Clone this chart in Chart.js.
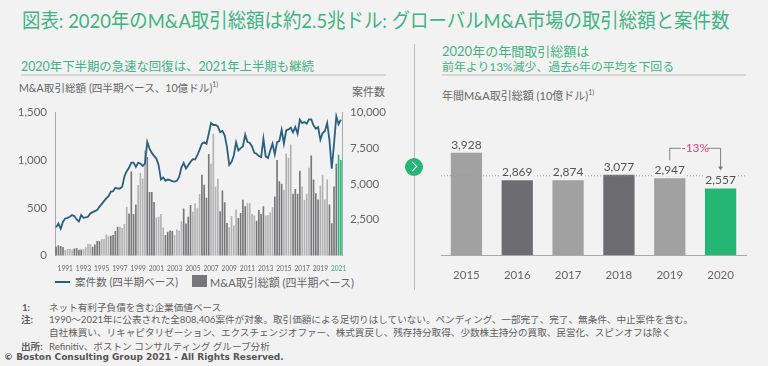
<!DOCTYPE html>
<html lang="ja">
<head>
<meta charset="utf-8">
<title>M&amp;A取引総額</title>
<script src="https://cdn.jsdelivr.net/npm/chart.js@4"></script>
<style>
html, body { margin: 0; padding: 0; background: #f2f2f2; }
body { position: relative; width: 768px; height: 366px; overflow: hidden; font-family: Lato, "Noto Sans CJK JP", sans-serif; color: #666; }
.t { position: absolute; white-space: nowrap; line-height: 1; }
.title { left: 22px; top: 10px; font-size: 20px; color: #3fb382; transform: scaleX(0.921); transform-origin: left center; }
.head { font-size: 12.4px; color: #3fb382; }
.axis { font-size: 10.6px; color: #666; }
.note { font-size: 9.6px; color: #5f5f5f; }
.rule { position: absolute; height: 2px; background: #d6d6d6; }
sup { font-size: 7px; line-height: 0; }
canvas { position: absolute; }
#divider { position: absolute; left: 414px; top: 44px; width: 1px; height: 246px; background: #bdbdbd; }
#go { position: absolute; left: 405px; top: 158px; width: 18px; height: 18px; border-radius: 50%; background: #25b574; }
#go:after { content: ""; position: absolute; left: 4px; top: 5px; width: 6px; height: 6px; border-top: 1.3px solid #fff; border-right: 1.3px solid #fff; transform: rotate(45deg); }
.swatch { position: absolute; }
</style>
</head>
<body>
<div class="t title">図表: 2020年のM&amp;A取引総額は約2.5兆ドル: グローバルM&amp;A市場の取引総額と案件数</div>

<div class="t head" style="left:21px;top:61px">2020年下半期の急速な回復は、2021年上半期も継続</div>
<div class="rule" style="left:21px;top:74px;width:365px"></div>
<div class="t axis" style="left:19px;top:83px">M&amp;A取引総額 (四半期ベース、10億ドル)<sup>1)</sup></div>
<div class="t axis" style="left:352px;top:86px;font-size:11px">案件数</div>

<div id="divider"></div>
<div id="go"></div>

<div class="t head" style="left:442px;top:45px;font-size:13px">2020年の年間取引総額は</div>
<div class="t head" style="left:442px;top:61px;font-size:11.9px">前年より13%減少、過去6年の平均を下回る</div>
<div class="rule" style="left:442px;top:74px;width:304px"></div>
<div class="t axis" style="left:442px;top:90px;font-size:11px">年間M&amp;A取引総額 (10億ドル)<sup>1)</sup></div>

<canvas id="trendChart" style="left:0;top:100px"></canvas>
<canvas id="annualChart" style="left:425px;top:120px"></canvas>

<div class="swatch" style="left:55px;top:281px;width:15px;height:2px;background:#2a5f80"></div>
<div class="t axis" style="left:75px;top:277px">案件数 (四半期ベース)</div>
<div class="swatch" style="left:192px;top:275px;width:15px;height:12px;background:#77777a"></div>
<div class="t axis" style="left:210px;top:277px;font-size:11px">M&amp;A取引総額 (四半期ベース)</div>

<div class="t note" style="left:22px;top:303px;font-weight:bold">1:</div>
<div class="t note" style="left:49px;top:303px">ネット有利子負債を含む企業価値ベース</div>
<div class="t note" style="left:21px;top:315px;font-weight:bold">注:</div>
<div class="t note" style="left:49px;top:315px">1990～2021年に公表された全808,406案件が対象。取引価額による足切りはしていない。ペンディング、一部完了、完了、無条件、中止案件を含む。</div>
<div class="t note" style="left:49px;top:328px">自社株買い、リキャピタリゼーション、エクスチェンジオファー、株式買戻し、残存持分取得、少数株主持分の買取、民営化、スピンオフは除く</div>
<div class="t note" style="left:21px;top:342px;font-weight:bold">出所:</div>
<div class="t note" style="left:49px;top:342px">Refinitiv、ボストン コンサルティング グループ分析</div>
<div class="t" style="left:4px;top:353px;font-size:9px;font-weight:bold;color:#555;font-family:'DejaVu Sans',sans-serif">© Boston Consulting Group 2021 - All Rights Reserved.</div>

<script>
// Quarterly values, 1990 Q1 to 2021 Q2
const firstYear = 1990;
const quarterCount = 126;
const tickYears = [1991, 1993, 1995, 1997, 1999, 2001, 2003, 2005, 2007, 2009, 2011, 2013, 2015, 2017, 2019, 2021];

const dealValue = [
    94, 108, 100, 90, 60, 70, 73, 66, 76, 80, 62, 66,
    70, 87, 121, 121, 94, 118, 153, 153, 174, 174, 222, 208,
    208, 215, 257, 302, 302, 288, 330, 510, 440, 880, 434, 534,
    739, 864, 805, 1100, 1030, 665, 665, 560, 399, 406, 434, 295,
    215, 250, 264, 257, 215, 274, 260, 360, 493, 337, 406, 530,
    460, 548, 495, 645, 845, 740, 604, 1061, 960, 1274, 722, 803,
    464, 680, 558, 342, 297, 415, 314, 482, 394, 447, 583, 516,
    548, 548, 436, 419, 366, 478, 436, 516, 419, 426, 454, 506,
    618, 998, 778, 750, 688, 1068, 1023, 1162, 646, 695, 646, 886,
    722, 583, 646, 918, 1047, 796, 653, 586, 729, 845, 586, 796,
    534, 339, 722, 960, 1054, 998
];

const dealCount = [
    1968, 2245, 1875, 2361, 2593, 2639, 2708, 2824, 2755, 2523, 2384, 2824,
    2639, 2662, 2708, 2940, 3033, 3102, 3172, 3403, 3588, 3797, 3982, 4144,
    4445, 4491, 4723, 4676, 4676, 4792, 5533, 5880, 6112, 6482, 6482, 6181,
    6459, 6413, 6250, 6413, 7917, 7454, 7153, 6945, 6760, 6297, 5301, 5440,
    5209, 5301, 5255, 5186, 5162, 5209, 5487, 6135, 6459, 6065, 6297, 6528,
    6713, 6690, 6991, 7385, 7792, 7885, 7792, 8490, 9234, 9095, 9095, 9000,
    8606, 8676, 8374, 7559, 6327, 6513, 6978, 7885, 7327, 7490, 7606, 8420,
    7908, 7862, 7606, 7164, 7094, 6932, 6862, 8141, 6909, 6792, 7327, 7792,
    7048, 7908, 7978, 8769, 7792, 8723, 8792, 8909, 8583, 8955, 8490, 9467,
    9234, 9304, 9188, 9490, 9490, 9071, 8839, 8955, 8071, 8537, 8676, 9234,
    8025, 6048, 7792, 9699, 9141, 9467
];

// Annual totals
const annualYears = ['2015', '2016', '2017', '2018', '2019', '2020'];
const annualValue = [3928, 2869, 2874, 3077, 2947, 2557];
const annualAverage = 3042;
const changeLabel = '-13%';

const FONT = 'Lato, "Noto Sans CJK JP", sans-serif';
const TEXT = '#666666';
const DARK_BAR = '#77777a';
const LIGHT_BAR = '#b2b2b2';
const GREEN = '#25b574';

document.addEventListener('DOMContentLoaded', function() {
    initTrendChart();
    initAnnualChart();
});

function quarterYear(index) {
    return firstYear + Math.floor(index / 4);
}

/**
 * Left chart: quarterly bars with deal count line on the right axis
 */
function initTrendChart() {
    const canvas = document.getElementById('trendChart');
    canvas.width = 400;
    canvas.height = 175;

    const labels = [];
    for (let i = 0; i < quarterCount; i++) {
        labels.push(i % 4 === 0 && tickYears.includes(quarterYear(i)) ? String(quarterYear(i)) : '');
    }

    new Chart(canvas, {
        type: 'bar',
        data: {
            labels: labels,
            datasets: [
                {
                    type: 'line',
                    label: '案件数',
                    data: dealCount,
                    yAxisID: 'y2',
                    borderColor: '#2a5f80',
                    borderWidth: 1.8,
                    pointRadius: 0,
                    tension: 0,
                    order: 1
                },
                {
                    label: 'M&A取引総額',
                    data: dealValue,
                    yAxisID: 'y',
                    backgroundColor: ctx => {
                        const year = quarterYear(ctx.dataIndex);
                        if (year === 2021) return GREEN;
                        return year % 2 === 0 ? DARK_BAR : LIGHT_BAR;
                    },
                    categoryPercentage: 1,
                    barPercentage: 0.72,
                    order: 2
                }
            ]
        },
        options: {
            responsive: false,
            animation: false,
            layout: { padding: { top: 12 } },
            plugins: { legend: { display: false }, tooltip: { enabled: false } },
            scales: {
                x: {
                    grid: { display: false },
                    border: { display: false },
                    afterFit: scale => { scale.height = 19.3; },
                    ticks: {
                        autoSkip: false,
                        maxRotation: 0,
                        padding: 1,
                        font: { family: FONT, size: 6.6 },
                        color: ctx => ctx.tick.label === '2021' ? GREEN : TEXT
                    }
                },
                y: {
                    min: 0,
                    max: 1500,
                    afterFit: scale => { scale.width = 55; },
                    grid: { display: false },
                    border: { color: '#a8a8a8' },
                    ticks: {
                        stepSize: 500,
                        padding: 0,
                        font: { family: FONT, size: 11.5 },
                        color: TEXT,
                        callback: value => value.toLocaleString('en-US')
                    }
                },
                y2: {
                    position: 'right',
                    min: 0,
                    max: 10000,
                    afterFit: scale => { scale.width = 58; },
                    grid: { display: false },
                    border: { color: '#a8a8a8' },
                    ticks: {
                        stepSize: 2500,
                        padding: 0,
                        font: { family: FONT, size: 11.5 },
                        color: TEXT,
                        callback: value => value === 0 ? '' : value.toLocaleString('en-US')
                    }
                }
            }
        }
    });
}

/**
 * Draws average line, value labels and the change bracket on the annual bars
 */
const annualOverlay = {
    id: 'annualOverlay',
    afterDatasetsDraw(chart) {
        const { ctx, chartArea, scales } = chart;
        const meta = chart.getDatasetMeta(0);
        const avgY = scales.y.getPixelForValue(annualAverage);

        ctx.save();
        ctx.strokeStyle = '#9a9a9a';
        ctx.lineWidth = 1;
        ctx.setLineDash([1, 2]);
        ctx.beginPath();
        ctx.moveTo(chartArea.left, avgY);
        ctx.lineTo(chartArea.right, avgY);
        ctx.stroke();
        ctx.setLineDash([]);

        // value labels sit on a background box so the dotted line breaks behind them
        ctx.font = '12px ' + FONT;
        ctx.textAlign = 'center';
        ctx.textBaseline = 'middle';
        meta.data.forEach((bar, i) => {
            const y = bar.y - 8;
            ctx.fillStyle = '#f2f2f2';
            ctx.fillRect(bar.x - 17, y - 6, 34, 12);
            ctx.fillStyle = '#555555';
            ctx.fillText(annualValue[i].toLocaleString('en-US'), bar.x, y);
        });

        // -13% bracket from 2019 to 2020
        const from = meta.data[4];
        const to = meta.data[5];
        const topY = from.y - 30;
        ctx.strokeStyle = '#808080';
        ctx.beginPath();
        ctx.moveTo(from.x, from.y - 18);
        ctx.lineTo(from.x, topY);
        ctx.lineTo(from.x + 11, topY);
        ctx.moveTo(to.x - 13, topY);
        ctx.lineTo(to.x, topY);
        ctx.lineTo(to.x, to.y - 20);
        ctx.stroke();
        ctx.fillStyle = '#808080';
        ctx.beginPath();
        ctx.moveTo(to.x - 2.5, to.y - 22);
        ctx.lineTo(to.x + 2.5, to.y - 22);
        ctx.lineTo(to.x, to.y - 18);
        ctx.closePath();
        ctx.fill();
        ctx.fillStyle = '#d4447f';
        ctx.font = '12px ' + FONT;
        ctx.fillText(changeLabel, (from.x + to.x) / 2, topY);
        ctx.restore();
    }
};

/**
 * Right chart: annual totals
 */
function initAnnualChart() {
    const canvas = document.getElementById('annualChart');
    canvas.width = 343;
    canvas.height = 166;

    new Chart(canvas, {
        type: 'bar',
        data: {
            labels: annualYears,
            datasets: [{
                label: '年間M&A取引総額',
                data: annualValue,
                backgroundColor: ['#a1a1a1', '#6d6d71', '#a1a1a1', '#6d6d71', '#a1a1a1', GREEN],
                categoryPercentage: 1,
                barPercentage: 0.615
            }]
        },
        options: {
            responsive: false,
            animation: false,
            layout: { padding: { top: 10, left: 16, right: 22 } },
            plugins: { legend: { display: false }, tooltip: { enabled: false } },
            scales: {
                x: {
                    grid: { display: false },
                    border: { color: '#a8a8a8', width: 1 },
                    afterFit: scale => { scale.height = 31; },
                    ticks: {
                        padding: 5,
                        font: { family: FONT, size: 11.5 },
                        color: TEXT
                    }
                },
                y: { display: false, min: 0, max: 4800 }
            }
        },
        plugins: [annualOverlay]
    });
}
</script>
</body>
</html>
